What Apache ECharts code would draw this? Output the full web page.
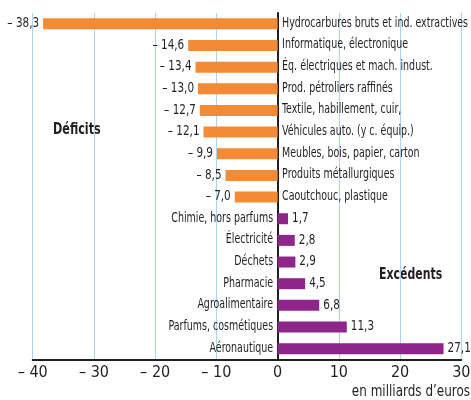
<!DOCTYPE html>
<html><head><meta charset="utf-8">
<script src="https://cdn.jsdelivr.net/npm/echarts@6/dist/echarts.min.js"></script>
<style>html,body{margin:0;padding:0;background:#fff}#c{width:471px;height:400px}</style>
</head><body><div id="c"></div>
<script>
const categories = ["Hydrocarbures bruts et ind. extractives","Informatique, électronique","Éq. électriques et mach. indust.","Prod. pétroliers raffinés","Textile, habillement, cuir,","Véhicules auto. (y c. équip.)","Meubles, bois, papier, carton","Produits métallurgiques","Caoutchouc, plastique","Chimie, hors parfums","Électricité","Déchets","Pharmacie","Agroalimentaire","Parfums, cosmétiques","Aéronautique"];
const values = [-38.3,-14.6,-13.4,-13.0,-12.7,-12.1,-9.9,-8.5,-7.0,1.7,2.8,2.9,4.5,6.8,11.3,27.1];
const xTicks = [-40,-30,-20,-10,0,10,20,30];
const annotations = ['Déficits', 'Excédents'];
const unitLabel = 'en milliards d\u2019euros';

const FONT = '"DejaVu Sans Condensed","DejaVu Sans",sans-serif';
const ORANGE = '#F38A35', PURPLE = '#8D258A', INK = '#231F20';
const fmtNum = v => (v < 0 ? '\u2013 ' : '') + Math.abs(v).toFixed(1).replace('.', ',');
const fmtTick = v => (v < 0 ? '\u2013 ' : '') + Math.abs(v);

const chart = echarts.init(document.getElementById('c'), null, {renderer:'canvas'});
chart.setOption({
  animation:false,
  grid:{left:32.7, right:9.7, top:13, bottom:40.5, containLabel:false, outerBoundsMode:'none'},
  graphic:[
    {type:'text', x:53, y:130, scaleX:0.83, style:{text:annotations[0], fontFamily:FONT, fontSize:15, fontWeight:'bold', fill:INK, align:'left', verticalAlign:'middle'}},
    {type:'text', x:379, y:275, scaleX:0.81, style:{text:annotations[1], fontFamily:FONT, fontSize:15, fontWeight:'bold', fill:INK, align:'left', verticalAlign:'middle'}},
    {type:'text', x:470, y:392, scaleX:0.86, style:{text:unitLabel, fontFamily:FONT, fontSize:15.5, fill:INK, align:'right', verticalAlign:'middle'}}
  ],
  xAxis:[
    {type:'value', min:-40, max:30, interval:10,
     axisLine:{show:true, onZero:false, lineStyle:{color:INK, width:2}},
     axisTick:{show:false},
     splitLine:{show:true, lineStyle:{color:'#A9D4F2', width:1}},
     axisLabel:{fontFamily:FONT, fontSize:16, color:INK, margin:5, formatter:fmtTick,
       customValues: xTicks}}
  ],
  yAxis:[
    {type:'category', data:categories, inverse:true,
     axisLine:{show:true, onZero:true, lineStyle:{color:INK, width:2}},
     axisTick:{show:false}, splitLine:{show:false},
     axisLabel:{show:false}}
  ],
  series:[{
    type:'bar', barWidth:11, z:2,
    data: values.map(v => ({value:v, itemStyle:{color: v < 0 ? ORANGE : PURPLE}}))
  },{
    type:'custom', clip:false, z:3, silent:true,
    data: values.map((v, i) => [v, i]),
    encode:{x:0, y:1},
    renderItem:(params, api) => {
      const i = params.dataIndex, v = values[i], neg = v < 0;
      const p0 = api.coord([0, i]), p1 = api.coord([v, i]);
      return {type:'group', children:[
        {type:'text', x: p0[0] + (neg ? 4.5 : -4.5), y: p0[1] - 0.5, scaleX:0.78,
         style:{text:categories[i], fontFamily:FONT, fontSize:13.5, fill:INK,
                align: neg ? 'left' : 'right', verticalAlign:'middle'}},
        {type:'text', x: p1[0] + (neg ? -4 : 4), y: p1[1] - 0.5, scaleX:0.8,
         style:{text:fmtNum(v), fontFamily:FONT, fontSize:14.5, fill:INK,
                align: neg ? 'right' : 'left', verticalAlign:'middle'}}
      ]};
    }
  }]
});
</script></body></html>
